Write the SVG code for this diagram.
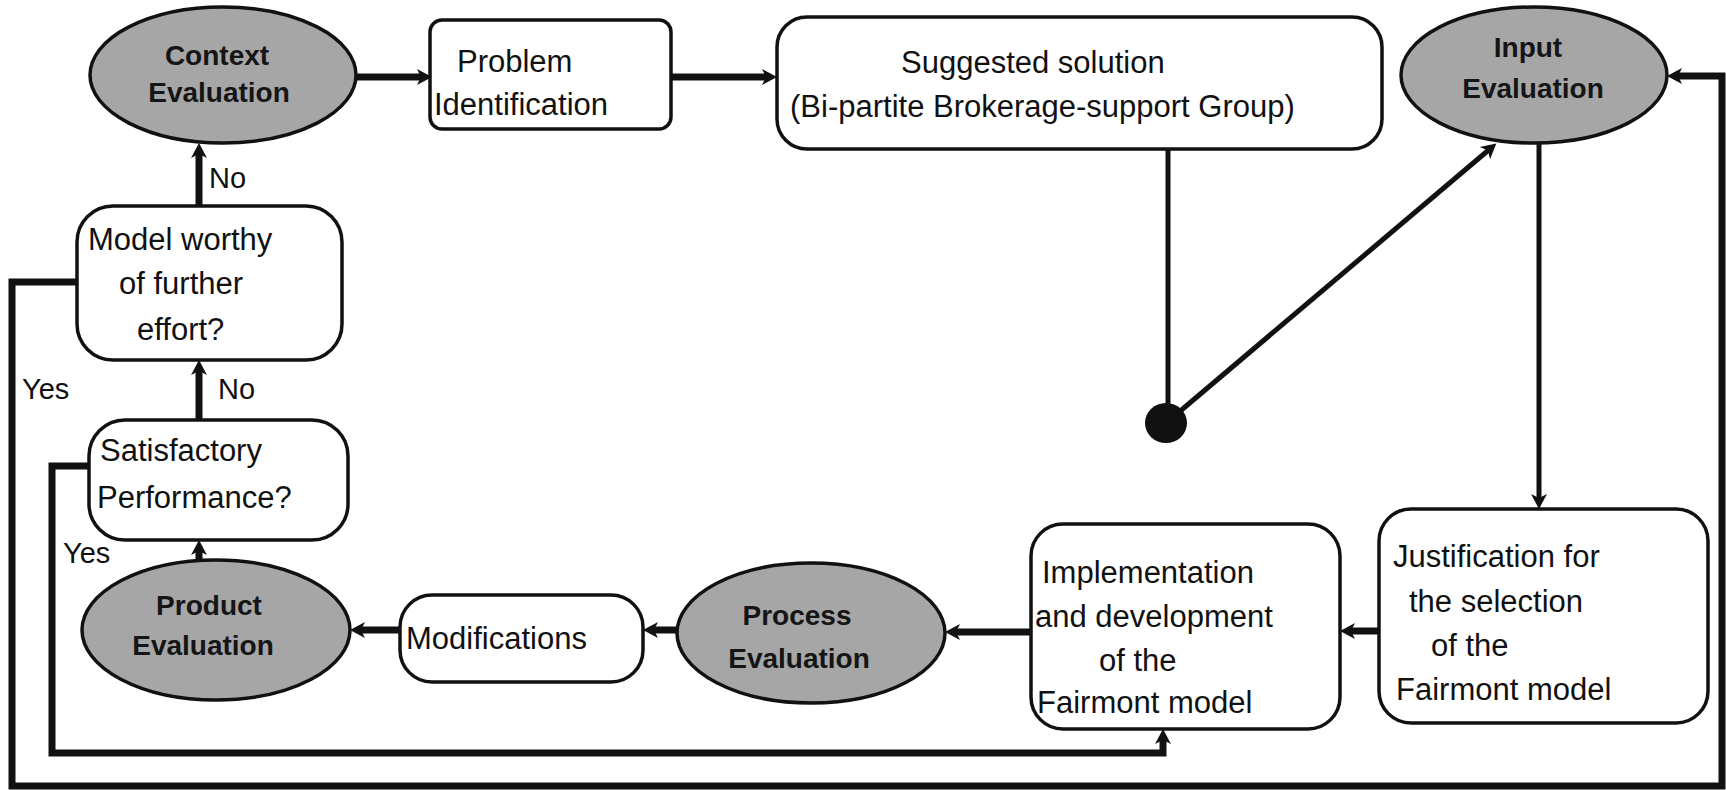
<svg xmlns="http://www.w3.org/2000/svg" width="1726" height="790" viewBox="0 0 1726 790">
<style>
.box{fill:#fff;stroke:#111;stroke-width:3.5}
.ell{fill:#a6a6a6;stroke:#111;stroke-width:3.5}
.t{font-family:"Liberation Sans",Arial,sans-serif;font-size:31px;fill:#111}
.et{font-family:"Liberation Sans",Arial,sans-serif;font-size:28px;font-weight:bold;fill:#151515;text-anchor:middle}
.lbl{font-family:"Liberation Sans",Arial,sans-serif;font-size:29px;fill:#111}
.c{fill:none;stroke:#111;stroke-width:7;stroke-linejoin:miter}
.cm{fill:none;stroke:#111;stroke-width:5}
</style>
<defs>
<marker id="ah" markerUnits="userSpaceOnUse" viewBox="-10 -10 20 20" refX="0" refY="0" markerWidth="20" markerHeight="20" orient="auto">
<path d="M7,0 L-8,-8 L-4,0 L-8,8 Z" fill="#111"/>
</marker>
</defs>
<rect width="1726" height="790" fill="#fff"/>

<g id="connectors">
<path class="c" d="M356,77 H425" marker-end="url(#ah)"/>
<path class="c" d="M671,77 H770" marker-end="url(#ah)"/>
<path class="cm" d="M1168,150 V410"/>
<ellipse cx="1166" cy="423" rx="21" ry="20" fill="#111"/>
<path class="cm" stroke-width="6" d="M1172,418 L1491,148" marker-end="url(#ah)"/>
<path class="cm" d="M1539,143 V502" marker-end="url(#ah)"/>
<path class="c" d="M1379,631 H1347" marker-end="url(#ah)"/>
<path class="c" d="M1031,632 H952" marker-end="url(#ah)"/>
<path class="c" d="M678,630 H650" marker-end="url(#ah)"/>
<path class="c" d="M400,630 H357" marker-end="url(#ah)"/>
<path class="c" d="M199,560 V547" marker-end="url(#ah)"/>
<path class="c" d="M199,420 V367" marker-end="url(#ah)"/>
<path class="c" d="M199,206 V150" marker-end="url(#ah)"/>
<path class="c" d="M77,282 H12 V786 H1722 V76 H1674" marker-end="url(#ah)"/>
<path class="c" d="M89,466 H52 V753 H1163 V736" marker-end="url(#ah)"/>
<text class="lbl" x="209" y="188">No</text>
<text class="lbl" x="218" y="399">No</text>
<text class="lbl" x="22" y="399">Yes</text>
<text class="lbl" x="63" y="563">Yes</text>
</g>

<g id="context-evaluation">
<ellipse class="ell" cx="223" cy="75" rx="133" ry="68"/>
<text class="et" x="217" y="65">Context</text>
<text class="et" x="219" y="102">Evaluation</text>
</g>

<g id="problem-identification">
<rect class="box" x="430" y="20" width="241" height="109" rx="12"/>
<text class="t" x="457" y="72">Problem</text>
<text class="t" x="434" y="115">Identification</text>
</g>

<g id="suggested-solution">
<rect class="box" x="777" y="17" width="605" height="132" rx="30"/>
<text class="t" x="901" y="73">Suggested solution</text>
<text class="t" x="790" y="117">(Bi-partite Brokerage-support Group)</text>
</g>

<g id="input-evaluation">
<ellipse class="ell" cx="1534" cy="75" rx="133" ry="68"/>
<text class="et" x="1528" y="57">Input</text>
<text class="et" x="1533" y="98">Evaluation</text>
</g>

<g id="justification">
<rect class="box" x="1379" y="509" width="329" height="214" rx="32"/>
<text class="t" x="1393" y="567">Justification for</text>
<text class="t" x="1409" y="612">the selection</text>
<text class="t" x="1431" y="656">of the</text>
<text class="t" x="1396" y="700">Fairmont model</text>
</g>

<g id="implementation">
<rect class="box" x="1031" y="524" width="309" height="205" rx="32"/>
<text class="t" x="1042" y="583">Implementation</text>
<text class="t" x="1035" y="627">and development</text>
<text class="t" x="1099" y="671">of the</text>
<text class="t" x="1037" y="713">Fairmont model</text>
</g>

<g id="process-evaluation">
<ellipse class="ell" cx="811" cy="633" rx="134" ry="70"/>
<text class="et" x="797" y="625">Process</text>
<text class="et" x="799" y="668">Evaluation</text>
</g>

<g id="modifications">
<rect class="box" x="400" y="595" width="243" height="87" rx="32"/>
<text class="t" x="406" y="649">Modifications</text>
</g>

<g id="product-evaluation">
<ellipse class="ell" cx="216" cy="630" rx="134" ry="70"/>
<text class="et" x="209" y="615">Product</text>
<text class="et" x="203" y="655">Evaluation</text>
</g>

<g id="satisfactory-performance">
<rect class="box" x="89" y="420" width="259" height="120" rx="36"/>
<text class="t" x="100" y="461">Satisfactory</text>
<text class="t" x="97" y="508">Performance?</text>
</g>

<g id="model-worthy">
<rect class="box" x="77" y="206" width="265" height="154" rx="36"/>
<text class="t" x="88" y="250">Model worthy</text>
<text class="t" x="119" y="294">of further</text>
<text class="t" x="137" y="340">effort?</text>
</g>
</svg>
